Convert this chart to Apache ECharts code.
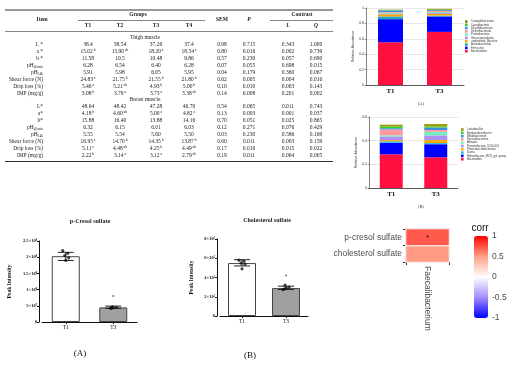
<!DOCTYPE html>
<html><head><meta charset="utf-8">
<script src="https://cdn.jsdelivr.net/npm/echarts/dist/echarts.min.js"></script>
<style>html,body{margin:0;padding:0;background:#fff}#c{width:520px;height:370px}</style>
</head><body><div id="c"></div>
<script>
// ---------------- DATA ----------------
const tableGroups = ['T1','T2','T3','T4'];
const thighItems = ['L *','a *','b *','pH|45min','pH|24h','Shear force (N)','Drip loss (%)','IMP (mg/g)'];
const thighVals = [['38.4','38.54','37.26','37.4'],['15.02','15.90','18.20','18.54'],['11.58','10.5','10.48','9.86'],['6.28','6.54','6.40','6.28'],['5.91','5.98','6.05','5.95'],['24.83','21.75','21.55','21.80'],['5.46','5.21','4.93','5.00'],['3.08','3.79','3.73','3.38']];
const thighSup = [['','','',''],['b','ab','a','a'],['','','',''],['','','',''],['','','',''],['a','b','b','b'],['a','ab','b','b'],['b','a','a','ab']];
const thighStats = [['0.98','0.715','0.343','1.000'],['0.80','0.016','0.002','0.739'],['0.57','0.230','0.057','0.690'],['0.07','0.055','0.698','0.015'],['0.04','0.179','0.360','0.067'],['0.62','0.005','0.004','0.016'],['0.10','0.010','0.003','0.143'],['0.14','0.008','0.201','0.002']];
const breastItems = ['L*','a*','b*','pH|45min','pH|24h','Shear force (N)','Drip loss (%)','IMP (mg/g)'];
const breastVals = [['48.64','48.42','47.28','46.70'],['4.18','4.60','5.00','4.82'],['15.88','16.40','13.88','14.16'],['6.32','6.15','6.01','6.03'],['5.55','5.54','5.60','5.50'],['16.95','14.70','14.35','13.87'],['5.11','4.48','4.25','4.49'],['2.22','3.14','3.12','2.79']];
const breastSup = [['','','',''],['b','ab','a','a'],['','','',''],['','','',''],['','','',''],['a','b','b','b'],['a','ab','b','ab'],['b','a','a','ab']];
const breastStats = [['0.54','0.065','0.011','0.743'],['0.13','0.003','0.001','0.037'],['0.70','0.051','0.025','0.865'],['0.12','0.271','0.076','0.429'],['0.03','0.230','0.586','0.169'],['0.60','0.011','0.003','0.159'],['0.17','0.016','0.015','0.022'],['0.19','0.011','0.064','0.005']];

const abCats = ['T1','T3'];
// phylum level (bottom -> top of stack)
const phylaNames = ['Bacteroidota','Firmicutes','Actinobacteriota','unidentified_Bacteria','Verrucomicrobiota','Proteobacteria','Deferribacterota','Desulfobacterota','Cyanobacteria','Campylobacterota'];
const phylaT1 = [0.555,0.300,0.035,0.028,0.010,0.012,0.008,0.020,0.004,0.006];
const phylaT3 = [0.690,0.200,0.012,0.022,0.015,0.010,0.012,0.010,0.008,0.010];
// genus level (bottom -> top of stack)
const genusNames = ['Bacteroides','Rikenellaceae_RC9_gut_group','Dorea','Phascolarctobacterium','Prevotellaceae_UCG-001','Alistipes','Faecalibacterium','Bifidobacterium','Methanobrevibacter','Lactobacillus'];
const genusT1 = [0.285,0.098,0.012,0.010,0.030,0.010,0.050,0.010,0.015,0.015];
const genusT3 = [0.260,0.110,0.010,0.025,0.040,0.030,0.015,0.020,0.010,0.020];

const peakCats = ['T1','T3'];
const cresolMean = [2.03e8, 0.45e8];
const cresolLo = [1.90e8, 0.42e8];
const cresolHi = [2.15e8, 0.49e8];
const cresolPtsT1 = [2.20e8, 2.12e8, 2.05e8, 1.98e8, 1.90e8];
const cresolPtsT3 = [0.47e8, 0.45e8, 0.44e8, 0.42e8, 0.43e8];
const cresolOutT3 = [0.80e8];
const cresolTicks = ['0','5×10⁷','1×10⁸','1.5×10⁸','2×10⁸','2.5×10⁸'];

const cholMean = [5.5e5, 2.9e5];
const cholLo = [5.2e5, 2.75e5];
const cholHi = [5.85e5, 3.1e5];
const cholPtsT1 = [5.8e5, 5.7e5, 5.5e5, 5.4e5, 4.9e5];
const cholPtsT3 = [3.2e5, 3.0e5, 2.9e5, 2.8e5, 2.75e5];
const cholOutT3 = [4.2e5];
const cholTicks = ['0','2×10⁵','4×10⁵','6×10⁵','8×10⁵'];

const hmX = ['Faecalibacterium'];
const hmY = ['cholesterol sulfate','p-cresol sulfate'];
const hmCorr = [0.52, 0.72];   // by hmY order
const hmSig = ['', '*'];
const corrTicks = [-1,-0.5,0,0.5,1];

// ---------------- RENDER ----------------
const chart = echarts.init(document.getElementById('c'));
const SERIF = 'Liberation Serif', SANS = 'Liberation Sans';
const INK = '#222';
const g = [];
function T(x, y, text, extra){
  g.push({type:'text', x:x, y:y, silent:true, z:10,
    style:Object.assign({text:text, fill:INK, fontFamily:SERIF, fontSize:5.5, align:'center', verticalAlign:'middle'}, extra||{})});
}
function L(x1,y1,x2,y2,w){
  g.push({type:'line', silent:true, z:10, shape:{x1:x1,y1:y1,x2:x2,y2:y2}, style:{stroke:'#333', lineWidth:w}});
}
const richT = {
  v:{fontSize:5.5, fontFamily:SERIF, fill:INK, lineHeight:7},
  s:{fontSize:3.6, fontFamily:SERIF, fill:INK, verticalAlign:'top', lineHeight:7},
  b:{fontSize:3.6, fontFamily:SERIF, fill:INK, verticalAlign:'bottom', lineHeight:7}
};
const colX = [88,120,156,189,222,249,288,316];
// header
L(5,10,333,10,1);
T(42,20,'Item',{fontWeight:'bold'});
T(138,15,'Groups',{fontWeight:'bold'});
L(78,20.5,205,20.5,0.6);
tableGroups.forEach((t,i)=>T(colX[i],26,t,{fontWeight:'bold'}));
T(colX[4],20,'SEM',{fontWeight:'bold'});
T(colX[5],20,'P',{fontWeight:'bold',fontStyle:'italic'});
T(302,15,'Contrast',{fontWeight:'bold'});
L(270,20.5,333,20.5,0.6);
T(colX[6],26,'L',{fontWeight:'bold',fontStyle:'italic'});
T(colX[7],26,'Q',{fontWeight:'bold',fontStyle:'italic'});
L(5,31.5,333,31.5,0.6);
function itemText(it){
  if (it.indexOf('|')>=0){ const p = it.split('|'); return '{v|'+p[0]+'}{b|'+p[1]+'}'; }
  return '{v|'+it+'}';
}
function block(y0, title, items, vals, sups, stats){
  T(145, y0, title);
  items.forEach((it,i)=>{
    const y = y0 + 6.95*(i+1);
    T(43, y, itemText(it), {align:'right', rich:richT});
    vals[i].forEach((v,j)=>{
      const s = sups[i][j];
      T(colX[j], y, '{v|'+v+'}' + (s ? '{s| '+s+'}' : ''), {rich:richT});
    });
    stats[i].forEach((v,j)=>T(colX[4+j], y, v));
  });
}
block(37.5,'Thigh muscle',thighItems,thighVals,thighSup,thighStats);
block(37.5+6.95*9,'Breast muscle',breastItems,breastVals,breastSup,breastStats);
L(5,161.5,333,161.5,1);

// other texts
T(421,104,'(A)',{fontSize:4});
T(421,207,'(B)',{fontSize:4});
T(90,221,'p-Cresol sulfate',{fontSize:6,fontWeight:'bold'});
T(267,220,'Cholesterol sulfate',{fontSize:6,fontWeight:'bold'});
T(80,354,'(A)',{fontSize:9,fill:'#111'});
T(250,356,'(B)',{fontSize:9,fill:'#111'});
T(480,228,'corr',{fontSize:10,fontFamily:SANS,fill:'#111'});

const phylaColors = ['#ff1040','#0000ff','#18a8c0','#ffa500','#a888e0','#70f0c0','#ff8a8a','#3a8fe0','#33cc33','#8b8b00'];
const genusColors = ['#ff1040','#0000ff','#33b8e8','#ffaa00','#b090f0','#70f0c0','#ff9aa0','#3a8fe0','#33cc33','#999900'];

const series = [];
phylaNames.forEach((n,i)=>series.push({name:n, type:'bar', stack:'A', xAxisIndex:0, yAxisIndex:0, barWidth:25,
  data:[phylaT1[i], phylaT3[i]], itemStyle:{color:phylaColors[i]}, emphasis:{disabled:true}}));
genusNames.forEach((n,i)=>series.push({name:n, type:'bar', stack:'B', xAxisIndex:1, yAxisIndex:1, barWidth:23,
  data:[genusT1[i], genusT3[i]], itemStyle:{color:genusColors[i]}, emphasis:{disabled:true}}));

const jit = [-3,2,-1,3,0,-2];
function peakSeries(ax, mean, lo, hi, p1, p3, out){
  series.push({type:'bar', xAxisIndex:ax, yAxisIndex:ax, barWidth:28, data:mean, z:2,
    itemStyle:{color:(p)=>['#ffffff','#a0a0a0'][p.dataIndex], borderColor:'#444', borderWidth:1}});
  series.push({type:'custom', xAxisIndex:ax, yAxisIndex:ax, z:3,
    data:mean.map((m,i)=>[i, lo[i], hi[i]]),
    renderItem:function(params, api){
      const x = api.value(0);
      const a = api.coord([x, api.value(1)]), b = api.coord([x, api.value(2)]);
      const hw = 8, st = {stroke:'#222', lineWidth:1};
      return {type:'group', children:[
        {type:'line', shape:{x1:a[0],y1:a[1],x2:b[0],y2:b[1]}, style:st},
        {type:'line', shape:{x1:a[0]-hw,y1:a[1],x2:a[0]+hw,y2:a[1]}, style:st},
        {type:'line', shape:{x1:b[0]-hw,y1:b[1],x2:b[0]+hw,y2:b[1]}, style:st}
      ]};
    }});
  const pts = p1.map((v,i)=>({value:[0,v], symbolOffset:[jit[i%6],0]}))
    .concat(p3.map((v,i)=>({value:[1,v], symbolOffset:[jit[(i+2)%6],0]})));
  series.push({type:'scatter', xAxisIndex:ax, yAxisIndex:ax, z:4, symbolSize:3.2, data:pts, itemStyle:{color:'#111'}});
  series.push({type:'scatter', xAxisIndex:ax, yAxisIndex:ax, z:4, symbolSize:2, data:out.map(v=>[1,v]), itemStyle:{color:'#555'}});
}
peakSeries(2, cresolMean, cresolLo, cresolHi, cresolPtsT1, cresolPtsT3, cresolOutT3);
peakSeries(3, cholMean, cholLo, cholHi, cholPtsT1, cholPtsT3, cholOutT3);

const hmIndex = series.length;
series.push({type:'heatmap', xAxisIndex:4, yAxisIndex:4,
  data:hmY.map((y,i)=>[0,i,hmCorr[i]]),
  itemStyle:{borderColor:'#ffffff', borderWidth:1},
  label:{show:true, formatter:(p)=>hmSig[p.dataIndex], fontSize:7, color:'#000', offset:[0,1]},
  emphasis:{disabled:true}});

const stackX = (gi)=>({type:'category', gridIndex:gi, data:abCats,
  axisLine:{lineStyle:{color:'#333', width:0.8}}, axisTick:{show:false},
  axisLabel:{fontFamily:SERIF, fontSize:7, fontWeight:'bold', color:'#111', margin:3}});
const stackY = (gi, max)=>({type:'value', gridIndex:gi, min:0, max:max, interval:0.2, name:'Relative Abundance',
  nameLocation:'middle', nameGap:9, nameTextStyle:{fontSize:3.5, fontFamily:SANS, color:'#333'},
  axisLine:{show:true, lineStyle:{color:'#333', width:0.6}}, axisTick:{show:true, length:1.5, lineStyle:{width:0.5}},
  axisLabel:{fontSize:3.5, fontFamily:SANS, color:'#333', margin:2, formatter:(v)=>v===0?'0':String(+v.toFixed(1))},
  splitLine:{show:true, lineStyle:{color:'#d8d8d8', width:0.6}}});
const peakX = (gi)=>({type:'category', gridIndex:gi, data:peakCats,
  axisLine:{lineStyle:{color:'#111', width:1}}, axisTick:{show:true, alignWithLabel:true, length:2, lineStyle:{color:'#111'}},
  axisLabel:{fontFamily:SERIF, fontSize:5.5, color:'#111', margin:3}});
const peakY = (gi, max, interval, ticks, gap)=>({type:'value', gridIndex:gi, min:0, max:max, interval:interval, offset:3,
  name:'Peak Intensity', nameLocation:'middle', nameGap:gap, nameTextStyle:{fontFamily:SERIF, fontSize:5.5, fontWeight:'bold', color:'#111'},
  axisLine:{show:true, lineStyle:{color:'#111', width:1}}, axisTick:{show:true, length:2, lineStyle:{color:'#111'}},
  axisLabel:{fontFamily:SERIF, fontSize:4.5, fontWeight:'bold', color:'#111', margin:2, formatter:(v)=>ticks[Math.round(v/interval)]},
  splitLine:{show:false}});

const legendCommon = {orient:'vertical', icon:'rect', itemWidth:2.6, itemHeight:2.6, itemGap:0.3, padding:0,
  textStyle:{fontSize:2.8, fontFamily:SANS, color:'#333', padding:[0,0,0,-1.5]}, selectedMode:false};

chart.setOption({
  animation:false,
  graphic:g,
  grid:[
    {left:366, top:8, width:98, height:77},
    {left:369, top:117, width:89, height:71},
    {left:42, top:241, width:95, height:81},
    {left:220, top:239, width:88, height:77},
    {left:406, top:229, width:43, height:33, show:true, borderColor:'#bdbdbd', borderWidth:2, backgroundColor:'#fff'},
    {left:474, top:236, width:14, height:82}
  ],
  xAxis:[stackX(0), stackX(1), peakX(2), peakX(3),
    {type:'category', gridIndex:4, data:hmX, axisLine:{show:false}, axisTick:{show:true, length:3, lineStyle:{color:'#333'}},
      axisLabel:{rotate:-90, fontFamily:SANS, fontSize:8.5, color:'#4d4d4d', margin:4}},
    {type:'category', gridIndex:5, data:[''], show:false}],
  yAxis:[stackY(0,1), stackY(1,0.6), peakY(2,2.5e8,5e7,cresolTicks,26), peakY(3,8e5,2e5,cholTicks,22),
    {type:'category', gridIndex:4, data:hmY, axisLine:{show:false}, axisTick:{show:true, length:3, lineStyle:{color:'#333'}},
      axisLabel:{fontFamily:SANS, fontSize:8.5, color:'#4d4d4d', margin:4}},
    {type:'value', gridIndex:5, min:-1, max:1, interval:0.5, position:'right', axisLine:{show:false}, axisTick:{show:false},
      splitLine:{show:false}, axisLabel:{fontFamily:SANS, fontSize:8.5, color:'#4d4d4d', margin:4,
      formatter:(v)=>String(corrTicks[Math.round((v+1)/0.5)])}}],
  legend:[
    Object.assign({left:465, top:20, data:phylaNames.slice().reverse()}, legendCommon),
    Object.assign({left:461, top:128, data:genusNames.slice().reverse()}, legendCommon)
  ],
  visualMap:[{type:'continuous', seriesIndex:hmIndex, min:-1, max:1, left:474, top:236, itemWidth:14, itemHeight:82,
    padding:0, calculable:false, showLabel:false, text:null,
    inRange:{color:['#0000ff','#a58cff','#ffffff','#ffa088','#ff0000']}}],
  series:series
});
</script></body></html>
